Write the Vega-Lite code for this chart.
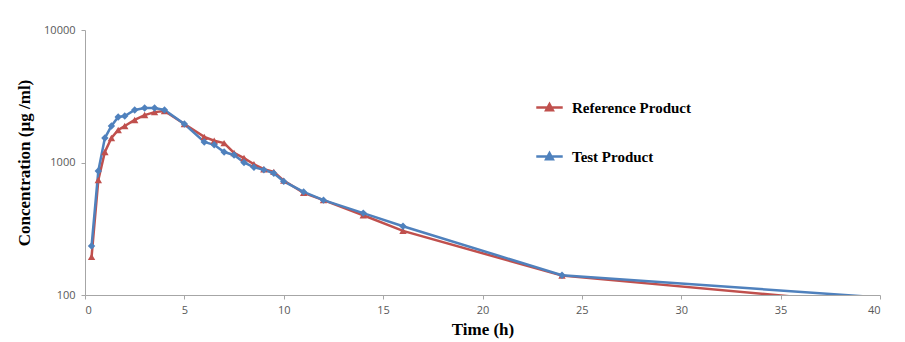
{
  "$schema": "https://vega.github.io/schema/vega-lite/v6.json",
  "width": 795,
  "height": 265,
  "autosize": {"type": "none"},
  "padding": {"left": 85, "top": 30, "right": 25, "bottom": 47},
  "background": "white",
  "config": {
    "view": {"stroke": null},
    "axis": {
      "labelFont": "Open Sans",
      "labelFontSize": 11,
      "labelColor": "#595959",
      "domainColor": "#A6A6A6",
      "tickColor": "#A6A6A6",
      "tickSize": 4,
      "grid": false,
      "titleFont": "Liberation Serif",
      "titleFontWeight": "bold",
      "titleFontSize": 17,
      "titleColor": "#000000"
    }
  },
  "data": {
    "values": [
      {"t": 0.33, "c": 194, "product": "Reference Product"},
      {"t": 0.67, "c": 738, "product": "Reference Product"},
      {"t": 1, "c": 1200, "product": "Reference Product"},
      {"t": 1.33, "c": 1530, "product": "Reference Product"},
      {"t": 1.67, "c": 1760, "product": "Reference Product"},
      {"t": 2, "c": 1885, "product": "Reference Product"},
      {"t": 2.5, "c": 2095, "product": "Reference Product"},
      {"t": 3, "c": 2280, "product": "Reference Product"},
      {"t": 3.5, "c": 2400, "product": "Reference Product"},
      {"t": 4, "c": 2450, "product": "Reference Product"},
      {"t": 5, "c": 1950, "product": "Reference Product"},
      {"t": 6, "c": 1560, "product": "Reference Product"},
      {"t": 6.5, "c": 1460, "product": "Reference Product"},
      {"t": 7, "c": 1400, "product": "Reference Product"},
      {"t": 7.5, "c": 1180, "product": "Reference Product"},
      {"t": 8, "c": 1080, "product": "Reference Product"},
      {"t": 8.5, "c": 970, "product": "Reference Product"},
      {"t": 9, "c": 890, "product": "Reference Product"},
      {"t": 9.5, "c": 850, "product": "Reference Product"},
      {"t": 10, "c": 730, "product": "Reference Product"},
      {"t": 11, "c": 590, "product": "Reference Product"},
      {"t": 12, "c": 520, "product": "Reference Product"},
      {"t": 14, "c": 400, "product": "Reference Product"},
      {"t": 16, "c": 305, "product": "Reference Product"},
      {"t": 24, "c": 140, "product": "Reference Product"},
      {"t": 48, "c": 66, "product": "Reference Product"},
      {"t": 0.33, "c": 234, "product": "Test Product"},
      {"t": 0.67, "c": 863, "product": "Test Product"},
      {"t": 1, "c": 1530, "product": "Test Product"},
      {"t": 1.33, "c": 1885, "product": "Test Product"},
      {"t": 1.67, "c": 2205, "product": "Test Product"},
      {"t": 2, "c": 2245, "product": "Test Product"},
      {"t": 2.5, "c": 2490, "product": "Test Product"},
      {"t": 3, "c": 2580, "product": "Test Product"},
      {"t": 3.5, "c": 2580, "product": "Test Product"},
      {"t": 4, "c": 2490, "product": "Test Product"},
      {"t": 5, "c": 1950, "product": "Test Product"},
      {"t": 6, "c": 1430, "product": "Test Product"},
      {"t": 6.5, "c": 1360, "product": "Test Product"},
      {"t": 7, "c": 1200, "product": "Test Product"},
      {"t": 7.5, "c": 1140, "product": "Test Product"},
      {"t": 8, "c": 1000, "product": "Test Product"},
      {"t": 8.5, "c": 920, "product": "Test Product"},
      {"t": 9, "c": 880, "product": "Test Product"},
      {"t": 9.5, "c": 830, "product": "Test Product"},
      {"t": 10, "c": 720, "product": "Test Product"},
      {"t": 11, "c": 600, "product": "Test Product"},
      {"t": 12, "c": 520, "product": "Test Product"},
      {"t": 14, "c": 415, "product": "Test Product"},
      {"t": 16, "c": 330, "product": "Test Product"},
      {"t": 24, "c": 141, "product": "Test Product"},
      {"t": 48, "c": 79, "product": "Test Product"}
    ]
  },
  "encoding": {
    "x": {
      "field": "t", "type": "quantitative",
      "scale": {"domain": [0, 40], "nice": false},
      "axis": {"values": [0, 5, 10, 15, 20, 25, 30, 35, 40], "title": "Time (h)", "titlePadding": 6, "labelPadding": 5}
    },
    "y": {
      "field": "c", "type": "quantitative",
      "scale": {"type": "log", "domain": [100, 10000], "nice": false},
      "axis": {"values": [100, 1000, 10000], "format": "d", "title": "Concentration  (µg /ml)", "titlePadding": 10, "labelPadding": 6}
    },
    "color": {
      "field": "product", "type": "nominal",
      "scale": {"domain": ["Reference Product", "Test Product"], "range": ["#C0504D", "#4F81BD"]},
      "legend": {
        "orient": "none",
        "legendX": 450,
        "legendY": 63,
        "title": null,
        "symbolType": "M-1,0L1,0M-0.25,0.2L0,-0.25L0.25,0.2Z",
        "symbolSize": 700,
        "symbolStrokeWidth": 2.5,
        "labelFont": "Liberation Serif",
        "labelFontWeight": "bold",
        "labelFontSize": 15,
        "labelColor": "#000000",
        "rowPadding": 26,
        "labelOffset": 8
      }
    }
  },
  "layer": [
    {
      "mark": {"type": "line", "strokeWidth": 2.5, "clip": true},
      "encoding": {"order": {"field": "t", "type": "quantitative"}}
    },
    {
      "transform": [{"filter": "datum.product === 'Reference Product'"}],
      "mark": {"type": "point", "filled": true, "size": 55, "opacity": 1, "clip": true, "shape": "triangle-up"}
    },
    {
      "transform": [{"filter": "datum.product === 'Test Product'"}],
      "mark": {"type": "point", "filled": true, "size": 55, "opacity": 1, "clip": true, "shape": "diamond"}
    }
  ]
}
